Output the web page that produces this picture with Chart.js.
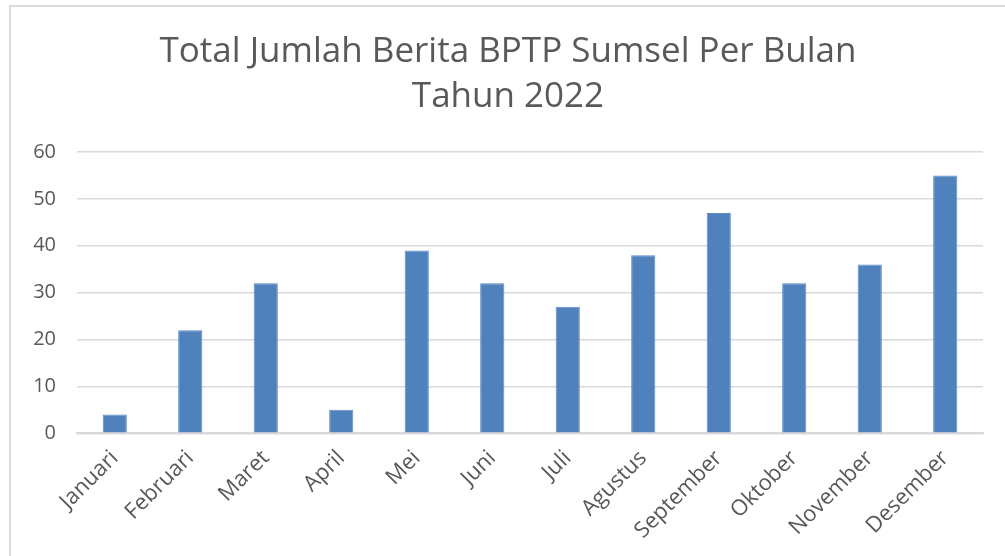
<!DOCTYPE html>
<html>
<head>
<meta charset="utf-8">
<script src="https://cdn.jsdelivr.net/npm/chart.js@4"></script>
<style>
  body { margin: 0; background: #fff; }
  #frame { position: absolute; left: 9px; top: 5px; width: 1010px; height: 570px; border: 2px solid #d9d9d9; }
  #wrap { position: absolute; left: 0; top: 0; width: 1005px; height: 556px; }
</style>
</head>
<body>
<div id="frame"></div>
<div id="wrap"><canvas id="myChart"></canvas></div>
<script>
let months = ['Januari', 'Februari', 'Maret', 'April', 'Mei', 'Juni', 'Juli', 'Agustus', 'September', 'Oktober', 'November', 'Desember'];
let jumlahBerita = [4, 22, 32, 5, 39, 32, 27, 38, 47, 32, 36, 55];
let yTicks = [0, 10, 20, 30, 40, 50, 60];

let ctx = document.getElementById('myChart').getContext('2d');

let beritaChart = new Chart(ctx, {
    type: 'bar',
    data: {
        labels: months,
        datasets: [{
            label: 'Jumlah Berita',
            data: jumlahBerita,
            backgroundColor: '#4f81bd',
            borderColor: '#5b8bc6',
            borderWidth: 1,
            barPercentage: 0.64,
            categoryPercentage: 0.5
        }]
    },
    options: {
        responsive: true,
        maintainAspectRatio: false,
        animation: false,
        layout: { padding: { left: 33, right: 22, top: 30, bottom: 8 } },
        plugins: {
            legend: { display: false },
            tooltip: { enabled: false },
            title: {
                display: true,
                text: ['Total Jumlah Berita BPTP Sumsel Per Bulan', 'Tahun 2022'],
                color: '#595959',
                font: { family: 'Open Sans', size: 35, weight: 'normal', lineHeight: 1.286 },
                padding: { top: 0, bottom: 32 }
            }
        },
        scales: {
            x: {
                grid: { display: false },
                border: { color: '#d9d9d9', width: 2 },
                afterFit: (s) => { s.paddingLeft = 0; s.paddingRight = 0; },
                ticks: {
                    color: '#595959',
                    font: { family: 'Open Sans', size: 22 },
                    maxRotation: 45,
                    minRotation: 45,
                    padding: 4
                }
            },
            y: {
                min: 0,
                max: 60,
                afterBuildTicks: (axis) => { axis.ticks = yTicks.map(v => ({ value: v })); },
                afterFit: (s) => { s.width = 44; },
                grid: { color: '#d9d9d9', lineWidth: 1.5, drawTicks: false },
                border: { display: false },
                ticks: {
                    color: '#595959',
                    font: { family: 'Open Sans', size: 20 },
                    padding: 21
                }
            }
        }
    }
});
</script>
</body>
</html>
